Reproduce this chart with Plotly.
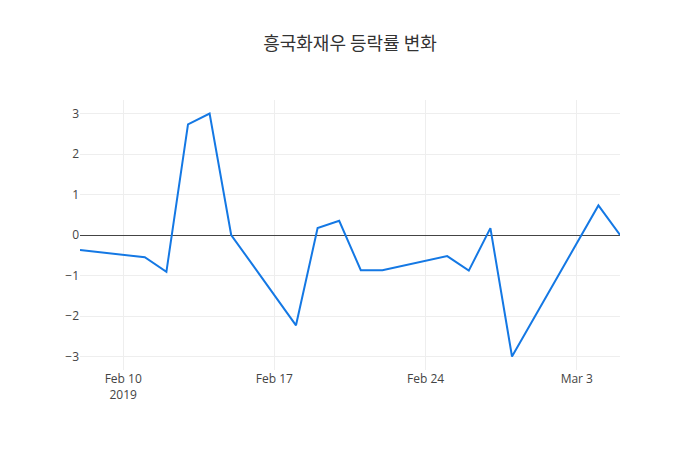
import plotly.graph_objects as go

dates = ["2019-02-08", "2019-02-11", "2019-02-12", "2019-02-13", "2019-02-14",
         "2019-02-15", "2019-02-18", "2019-02-19", "2019-02-20", "2019-02-21",
         "2019-02-22", "2019-02-25", "2019-02-26", "2019-02-27", "2019-02-28",
         "2019-03-04", "2019-03-05"]
changes = [-0.37, -0.55, -0.91, 2.73, 3.0,
           0.0, -2.23, 0.17, 0.35, -0.87,
           -0.87, -0.52, -0.88, 0.17, -3.0,
           0.73, 0.0]

fig = go.Figure(go.Scatter(x=dates, y=changes, mode="lines",
                           line=dict(color="rgb(20,120,228)", width=2)))
fig.update_layout(
    template="none",
    width=700, height=450,
    title=dict(text="흥국화재우 등락률 변화", xref="paper", x=0.5, xanchor="center",
               y=0.92, yanchor="middle",
               font=dict(family="Noto Sans CJK KR", size=18, color="#333")),
    font=dict(family="Open Sans", color="#444", size=12),
    paper_bgcolor="white", plot_bgcolor="white",
    margin=dict(l=72, r=88, t=92, b=88),
    xaxis=dict(gridcolor="#eee", showline=False, zeroline=False),
    yaxis=dict(gridcolor="#eee", zeroline=True, zerolinecolor="#444",
               zerolinewidth=1, showline=False),
)
fig.write_html("out.html")
